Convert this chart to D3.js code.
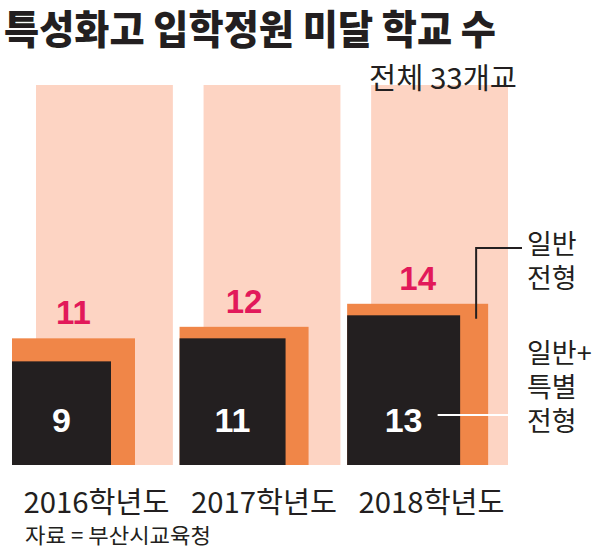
<!DOCTYPE html>
<html>
<head>
<meta charset="utf-8">
<script src="https://cdn.jsdelivr.net/npm/d3@7"></script>
<style>
  body { margin: 0; background: #fff; }
  text { font-family: "Noto Sans CJK KR", "Noto Sans", sans-serif; }
</style>
</head>
<body>
<div id="chart"></div>
<script>
// data
var years = ["2016학년도", "2017학년도", "2018학년도"];
var total = [33, 33, 33];          // 전체 33개교
var general = [11, 12, 14];        // 일반 전형
var generalSpecial = [9, 11, 13];  // 일반+특별 전형

var width = 600, height = 548;

var svg = d3.select("#chart")
  .append("svg")
    .attr("width", width)
    .attr("height", height);

var rows = years.map(function(d, i) {
  return {year: d, total: total[i], general: general[i], both: generalSpecial[i]};
});

// vertical scale (one unit ~ 11.5px)
var y = d3.scaleLinear()
  .domain([0, 33])
  .range([465, 85]);

// one band per year
var x = d3.scaleBand()
  .domain(years)
  .range([12, 508])
  .paddingInner(0.04)
  .paddingOuter(0)
  .align(0);

var bw = x.bandwidth();
var pinkOffset = 24;

// the squares also grow a little in width with their value
var wOrange = d3.scaleLinear().domain([11, 14]).range([123, 141]);
var wBlack = d3.scaleLinear().domain([9, 13]).range([99, 113]);

var pink = "#fdd4c3", orange = "#f08648", dark = "#231f20", red = "#e2195a";

// title
svg.append("text")
  .attr("x", 4)
  .attr("y", 44)
  .attr("textLength", 492)
  .attr("lengthAdjust", "spacingAndGlyphs")
  .style("font-size", "40px")
  .style("font-weight", 900)
  .style("fill", dark)
  .text("특성화고 입학정원 미달 학교 수");

var g = svg.selectAll(".year")
  .data(rows)
  .enter()
  .append("g")
    .attr("class", "year")
    .attr("transform", function(d) { return "translate(" + x(d.year) + ",0)"; });

// total (light)
g.append("rect")
  .attr("x", pinkOffset)
  .attr("y", function(d) { return y(d.total); })
  .attr("width", bw - pinkOffset)
  .attr("height", function(d) { return y(0) - y(d.total); })
  .style("fill", pink);

// general (orange)
g.append("rect")
  .attr("x", 0)
  .attr("y", function(d) { return y(d.general); })
  .attr("width", function(d) { return wOrange(d.general); })
  .attr("height", function(d) { return y(0) - y(d.general); })
  .style("fill", orange);

// general + special (dark)
g.append("rect")
  .attr("x", 0)
  .attr("y", function(d) { return y(d.both); })
  .attr("width", function(d) { return wBlack(d.both); })
  .attr("height", function(d) { return y(0) - y(d.both); })
  .style("fill", dark);

// red value labels
g.append("text")
  .attr("x", function(d) { return wOrange(d.general) * 0.5; })
  .attr("y", function(d) { return y(d.general) - 14; })
  .attr("text-anchor", "middle")
  .style("font-family", "'Liberation Sans', Arial, sans-serif")
  .style("font-size", "33px")
  .style("font-weight", "bold")
  .style("fill", red)
  .text(function(d) { return d.general; });

// white value labels
g.append("text")
  .attr("x", function(d) { return wBlack(d.both) / 2; })
  .attr("y", y(0) - 33)
  .attr("text-anchor", "middle")
  .style("font-family", "'Liberation Sans', Arial, sans-serif")
  .style("font-size", "34px")
  .style("font-weight", "bold")
  .style("fill", "#fff")
  .text(function(d) { return d.both; });

// year labels
g.append("text")
  .attr("x", bw / 2 + 4)
  .attr("y", 513)
  .attr("text-anchor", "middle")
  .attr("textLength", 146)
  .attr("lengthAdjust", "spacingAndGlyphs")
  .style("font-size", "29px")
  .style("fill", dark)
  .text(function(d) { return d.year; });

// total label above last bar
var last = rows[rows.length - 1];
svg.append("text")
  .attr("x", x(last.year) + bw + 9)
  .attr("y", 89)
  .attr("text-anchor", "end")
  .attr("textLength", 148)
  .attr("lengthAdjust", "spacingAndGlyphs")
  .style("font-size", "29px")
  .style("fill", dark)
  .text("전체 " + last.total + "개교");

// annotation: 일반 전형
var lx = x(last.year) + (wBlack(last.both) + wOrange(last.general)) / 2 + 2;
svg.append("path")
  .attr("d", "M" + 522 + "," + 248 + "H" + lx + "V" + (y(last.general) + 15))
  .style("fill", "none")
  .style("stroke", dark)
  .style("stroke-width", 2);

// annotation: 일반+특별 전형
svg.append("line")
  .attr("x1", x(last.year) + wBlack(last.both) / 2 + 34)
  .attr("x2", x(last.year) + bw)
  .attr("y1", 415)
  .attr("y2", 415)
  .style("stroke", "#fff")
  .style("stroke-width", 2);

var noteGeneral = ["일반", "전형"];
var noteBoth = ["일반+", "특별", "전형"];

svg.selectAll(".note1")
  .data(noteGeneral)
  .enter()
  .append("text")
    .attr("x", 527)
    .attr("y", function(d, i) { return 254 + i * 34; })
    .style("font-size", "27px")
    .style("fill", dark)
    .text(function(d) { return d; });

svg.selectAll(".note2")
  .data(noteBoth)
  .enter()
  .append("text")
    .attr("x", 527)
    .attr("y", function(d, i) { return 363 + i * 34; })
    .style("font-size", "27px")
    .style("fill", dark)
    .text(function(d) { return d; });

// source
svg.append("text")
  .attr("x", 25)
  .attr("y", 543)
  .attr("textLength", 186)
  .attr("lengthAdjust", "spacingAndGlyphs")
  .style("font-size", "21px")
  .style("fill", dark)
  .text("자료 = 부산시교육청");
</script>
</body>
</html>
